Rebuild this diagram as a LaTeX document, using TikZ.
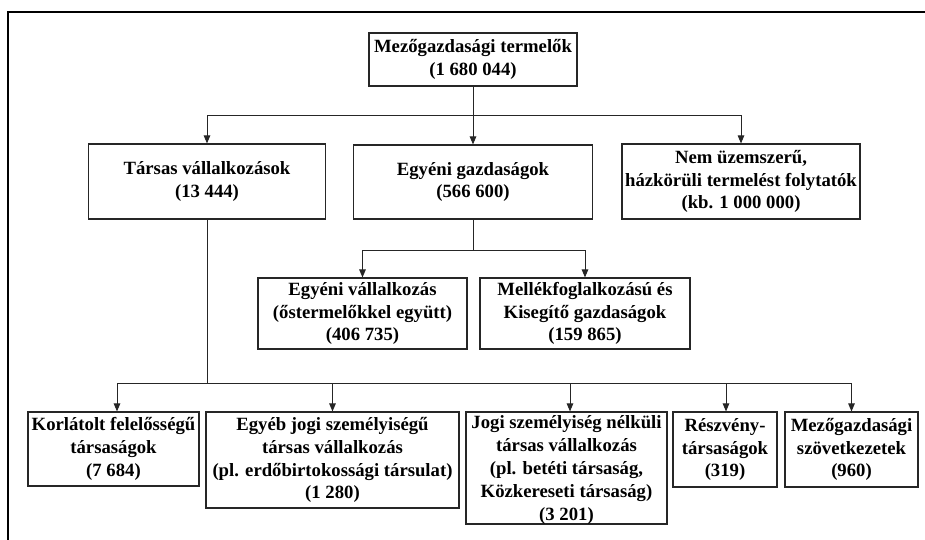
\documentclass[tikz,border=0pt]{standalone}
\usepackage{fontspec}
\setmainfont{Liberation Serif}
\usetikzlibrary{arrows.meta}
\begin{document}
\begin{tikzpicture}[x=1pt,y=-1pt,
  box/.style={draw=black!85,line width=1.1pt,align=center,inner sep=0pt,
    font=\fontsize{18.7}{22.8}\selectfont\bfseries},
  conn/.style={line width=1pt,black!85},
  arr/.style={conn,-{Triangle[length=8pt,width=6.5pt]}}]
\useasboundingbox (0,0) rectangle (925,540);
% frame
\draw[line width=2.6pt] (925,12) -- (8,12) -- (8,541);
% boxes
\node[box,minimum width=208pt,minimum height=53pt] (root) at (473,59.5) {Mezőgazdasági termelők\\(1 680 044)};
\node[box,minimum width=237pt,minimum height=75pt] (tars) at (207,181.5) {Társas vállalkozások\\(13 444)};
\node[box,minimum width=239pt,minimum height=74pt] (egy) at (473,182) {Egyéni gazdaságok\\(566 600)};
\node[box,minimum width=238pt,minimum height=75pt] (nem) at (741,181.5) {Nem üzemszerű,\\házkörüli termelést folytatók\\(kb. 1 000 000)};
\node[box,minimum width=209pt,minimum height=71pt] (ev) at (362.5,313.5) {Egyéni vállalkozás\\(őstermelőkkel együtt)\\(406 735)};
\node[box,minimum width=210pt,minimum height=71pt] (mell) at (585,313.5) {Mellékfoglalkozású és\\Kisegítő gazdaságok\\(159 865)};
\node[box,minimum width=171pt,minimum height=74pt] (k1) at (113.5,449) {Korlátolt felelősségű\\társaságok\\(7 684)};
\node[box,minimum width=253pt,minimum height=96pt] (k2) at (332.5,460) {Egyéb jogi személyiségű\\társas vállalkozás\\(pl. erdőbirtokossági társulat)\\(1 280)};
\node[box,minimum width=201pt,minimum height=112pt,text depth=0pt] (k3) at (566.5,468) {Jogi személyiség nélküli\\társas vállalkozás\\(pl. betéti társaság,\\Közkereseti társaság)\\(3 201)};
\node[box,minimum width=104pt,minimum height=75pt] (k4) at (725,449.5) {Részvény-\\társaságok\\(319)};
\node[box,minimum width=133pt,minimum height=75pt] (k5) at (851.5,449.5) {Mezőgazdasági\\szövetkezetek\\(960)};
% bus coordinates
\coordinate (b1) at (473,116);
\coordinate (b2) at (473,250);
\coordinate (b3) at (207,383);
% connectors level 1
\draw[conn] (root.south) -- (b1);
\draw[arr] (b1) -- (egy.north);
\draw[arr] (b1) -| (tars.north);
\draw[arr] (b1) -| (nem.north);
% connectors level 2
\draw[conn] (egy.south) -- (b2);
\draw[arr] (b2) -| (ev.north);
\draw[arr] (b2) -| (mell.north);
% connectors level 3
\draw[conn] (tars.south) -- (b3);
\draw[arr] (b3) -| ([xshift=3.5pt]k1.north);
\draw[arr] (b3) -| (k2.north);
\draw[arr] (b3) -| ([xshift=3.5pt]k3.north);
\draw[arr] (b3) -| ([xshift=1pt]k4.north);
\draw[arr] (b3) -| (k5.north);
\end{tikzpicture}
\end{document}
